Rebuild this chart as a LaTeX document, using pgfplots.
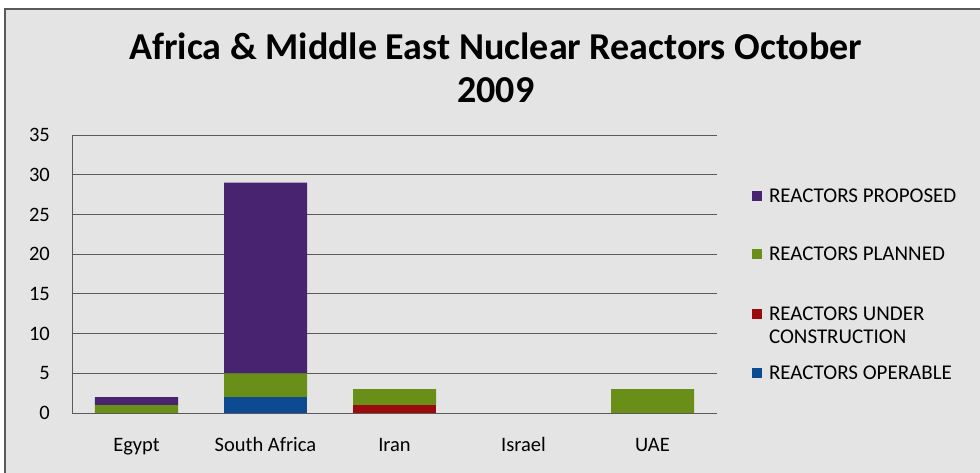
\documentclass[border=0pt]{standalone}
\usepackage{pgfplots}
\pgfplotsset{compat=1.18}
\usepackage{fontspec}
\setmainfont{Carlito}
\definecolor{bgc}{HTML}{E4E4E4}
\definecolor{framec}{HTML}{5A5A5A}
\definecolor{gridc}{HTML}{5A5A5A}
\definecolor{cprop}{HTML}{472370}
\definecolor{cplan}{HTML}{6A8F19}
\definecolor{ccons}{HTML}{9B0B0B}
\definecolor{coper}{HTML}{0C4A92}
\begin{document}
\begin{tikzpicture}
\useasboundingbox (0,0) rectangle (980bp,473bp);
\begin{scope}
\clip (0,0) rectangle (980bp,473bp);
\fill[white] (0,0) rectangle (980bp,473bp);
\filldraw[fill=bgc, draw=framec, line width=2bp] (5bp,-10bp) rectangle (995bp,464bp);
\end{scope}
\begin{axis}[
  at={(72bp,60bp)}, anchor=south west,
  scale only axis, width=645bp, height=278bp,
  ybar stacked, bar width=83bp,
  xmin=-0.5, xmax=4.5, ymin=0, ymax=35,
  xtick=data, xticklabels={Egypt,South Africa,Iran,Israel,UAE},
  ytick={0,5,...,35},
  axis lines*=left,
  axis line style={draw=gridc, line width=0.9bp},
  ymajorgrids, grid style={draw=gridc, line width=0.9bp},
  major tick length=0pt,
  tick style={draw=none},
  /pgf/number format/assume math mode=true,
  tick label style={font=\fontsize{20.5bp}{24bp}\selectfont, text=black},
  yticklabel style={anchor=east, inner sep=0pt, xshift=-22bp},
  xticklabel style={anchor=base, inner sep=0pt, yshift=-38bp},
  title={Africa \& Middle East Nuclear Reactors October\\2009},
  title style={at={(0.657,1.221)}, anchor=center, align=center, font=\fontsize{38bp}{43bp}\selectfont\bfseries},
  reverse legend,
  legend cell align=left,
  legend style={at={(1.054,0.815)}, anchor=north west, draw=none, fill=none, inner sep=0pt,
    row sep=39bp, font=\fontsize{21bp}{23bp}\selectfont},
  legend image code/.code={\fill[#1] (0bp,-5bp) rectangle (10bp,5bp); \path (15bp,0bp);},
]
\addplot[fill=coper, draw=none] coordinates {(0,0) (1,2) (2,0) (3,0) (4,0)};
\addlegendentry{REACTORS OPERABLE}
\addplot[fill=ccons, draw=none] coordinates {(0,0) (1,0) (2,1) (3,0) (4,0)};
\addlegendentry{\raisebox{0pt}[\height][0pt]{\begin{tabular}[t]{@{}l@{}}REACTORS UNDER\\CONSTRUCTION\end{tabular}}}
\addplot[fill=cplan, draw=none] coordinates {(0,1) (1,3) (2,2) (3,0) (4,3)};
\addlegendentry{REACTORS PLANNED}
\addplot[fill=cprop, draw=none] coordinates {(0,1) (1,24) (2,0) (3,0) (4,0)};
\addlegendentry{REACTORS PROPOSED}
\end{axis}
\end{tikzpicture}
\end{document}
